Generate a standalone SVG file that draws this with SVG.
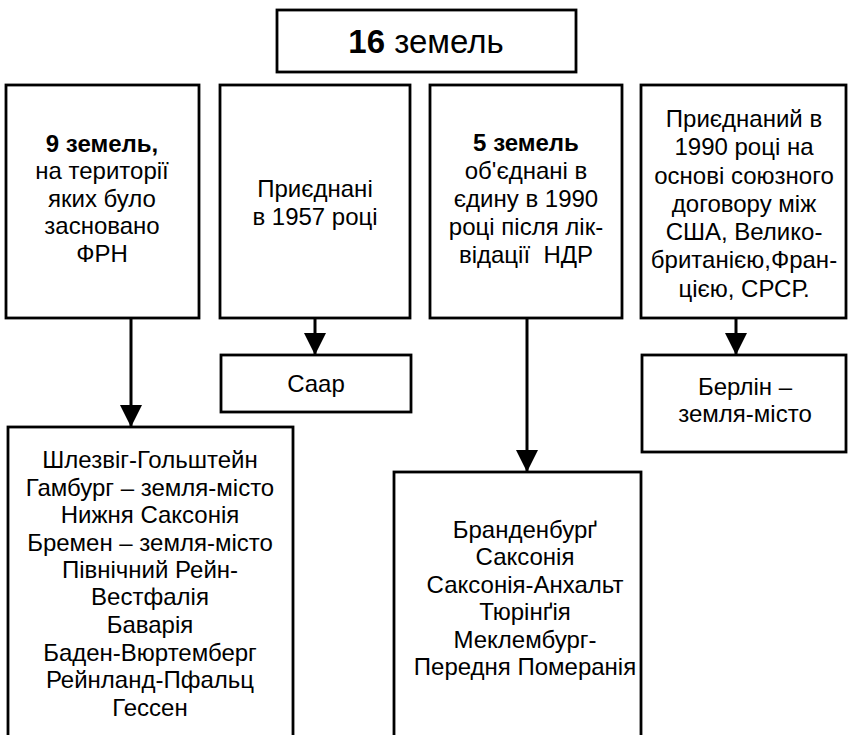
<svg xmlns="http://www.w3.org/2000/svg" width="848" height="735" viewBox="0 0 848 735">
<style>
.box{fill:#fff;stroke:#000;stroke-width:2.8}
text{font-family:"Liberation Sans",Arial,sans-serif;font-size:24px;fill:#000;text-anchor:middle}
.b{font-weight:bold}
.conn{stroke:#000;stroke-width:3;fill:none}
</style>
<defs>
<marker id="ah" markerWidth="22" markerHeight="22" refX="22" refY="11" orient="auto" markerUnits="userSpaceOnUse">
<path d="M0,0 L22,11 L0,22 Z" fill="#000"/>
</marker>
</defs>
<rect width="848" height="735" fill="#fff"/>
<g id="top">
<rect class="box" x="277" y="10" width="299" height="62"/>
<text x="426" y="53" style="font-size:33px"><tspan class="b">16</tspan> земель</text>
</g>
<g id="n1">
<rect class="box" x="6" y="85" width="193" height="233"/>
<text x="102" y="152" class="b">9 земель,</text>
<text x="102" y="179">на території</text>
<text x="102" y="207">яких було</text>
<text x="102" y="234">засновано</text>
<text x="102" y="262">ФРН</text>
</g>
<g id="n2">
<rect class="box" x="220" y="85" width="190" height="233"/>
<text x="315" y="197">Приєднані</text>
<text x="315" y="225">в 1957 році</text>
</g>
<g id="n3">
<rect class="box" x="430" y="85" width="192" height="233"/>
<text x="526" y="151" class="b">5 земель</text>
<text x="526" y="179">об'єднані в</text>
<text x="526" y="207">єдину в 1990</text>
<text x="526" y="235">році після лік-</text>
<text x="526" y="263" style="white-space:pre">відації  НДР</text>
</g>
<g id="n4">
<rect class="box" x="641" y="85" width="205" height="233"/>
<text x="744" y="127">Приєднаний в</text>
<text x="744" y="155">1990 році на</text>
<text x="744" y="184">основі союзного</text>
<text x="744" y="212">договору між</text>
<text x="744" y="240">США, Велико-</text>
<text x="744" y="268">британією,Фран-</text>
<text x="744" y="297">цією, СРСР.</text>
</g>
<g id="saar">
<rect class="box" x="221" y="355" width="190" height="57"/>
<text x="316" y="392">Саар</text>
</g>
<g id="berlin">
<rect class="box" x="642" y="355" width="204" height="97"/>
<text x="745" y="395">Берлін –</text>
<text x="745" y="422">земля-місто</text>
</g>
<g id="west">
<rect class="box" x="8" y="427" width="285" height="320"/>
<text x="150" y="468">Шлезвіг-Гольштейн</text>
<text x="150" y="496">Гамбург – земля-місто</text>
<text x="150" y="523">Нижня Саксонія</text>
<text x="150" y="551">Бремен – земля-місто</text>
<text x="150" y="578">Північний Рейн-</text>
<text x="150" y="605">Вестфалія</text>
<text x="150" y="633">Баварія</text>
<text x="150" y="661">Баден-Вюртемберг</text>
<text x="150" y="688">Рейнланд-Пфальц</text>
<text x="150" y="716">Гессен</text>
</g>
<g id="east">
<rect class="box" x="394" y="472" width="247" height="275"/>
<text x="525" y="538">Бранденбурґ</text>
<text x="525" y="565">Саксонія</text>
<text x="525" y="593">Саксонія-Анхальт</text>
<text x="525" y="620">Тюрінґія</text>
<text x="525" y="648">Меклембург-</text>
<text x="525" y="675">Передня Померанія</text>
</g>
<g id="connectors">
<line class="conn" x1="131" y1="318" x2="131" y2="427" marker-end="url(#ah)"/>
<line class="conn" x1="315" y1="318" x2="315" y2="355" marker-end="url(#ah)"/>
<line class="conn" x1="527" y1="318" x2="527" y2="472" marker-end="url(#ah)"/>
<line class="conn" x1="736" y1="318" x2="736" y2="355" marker-end="url(#ah)"/>
</g>
</svg>
